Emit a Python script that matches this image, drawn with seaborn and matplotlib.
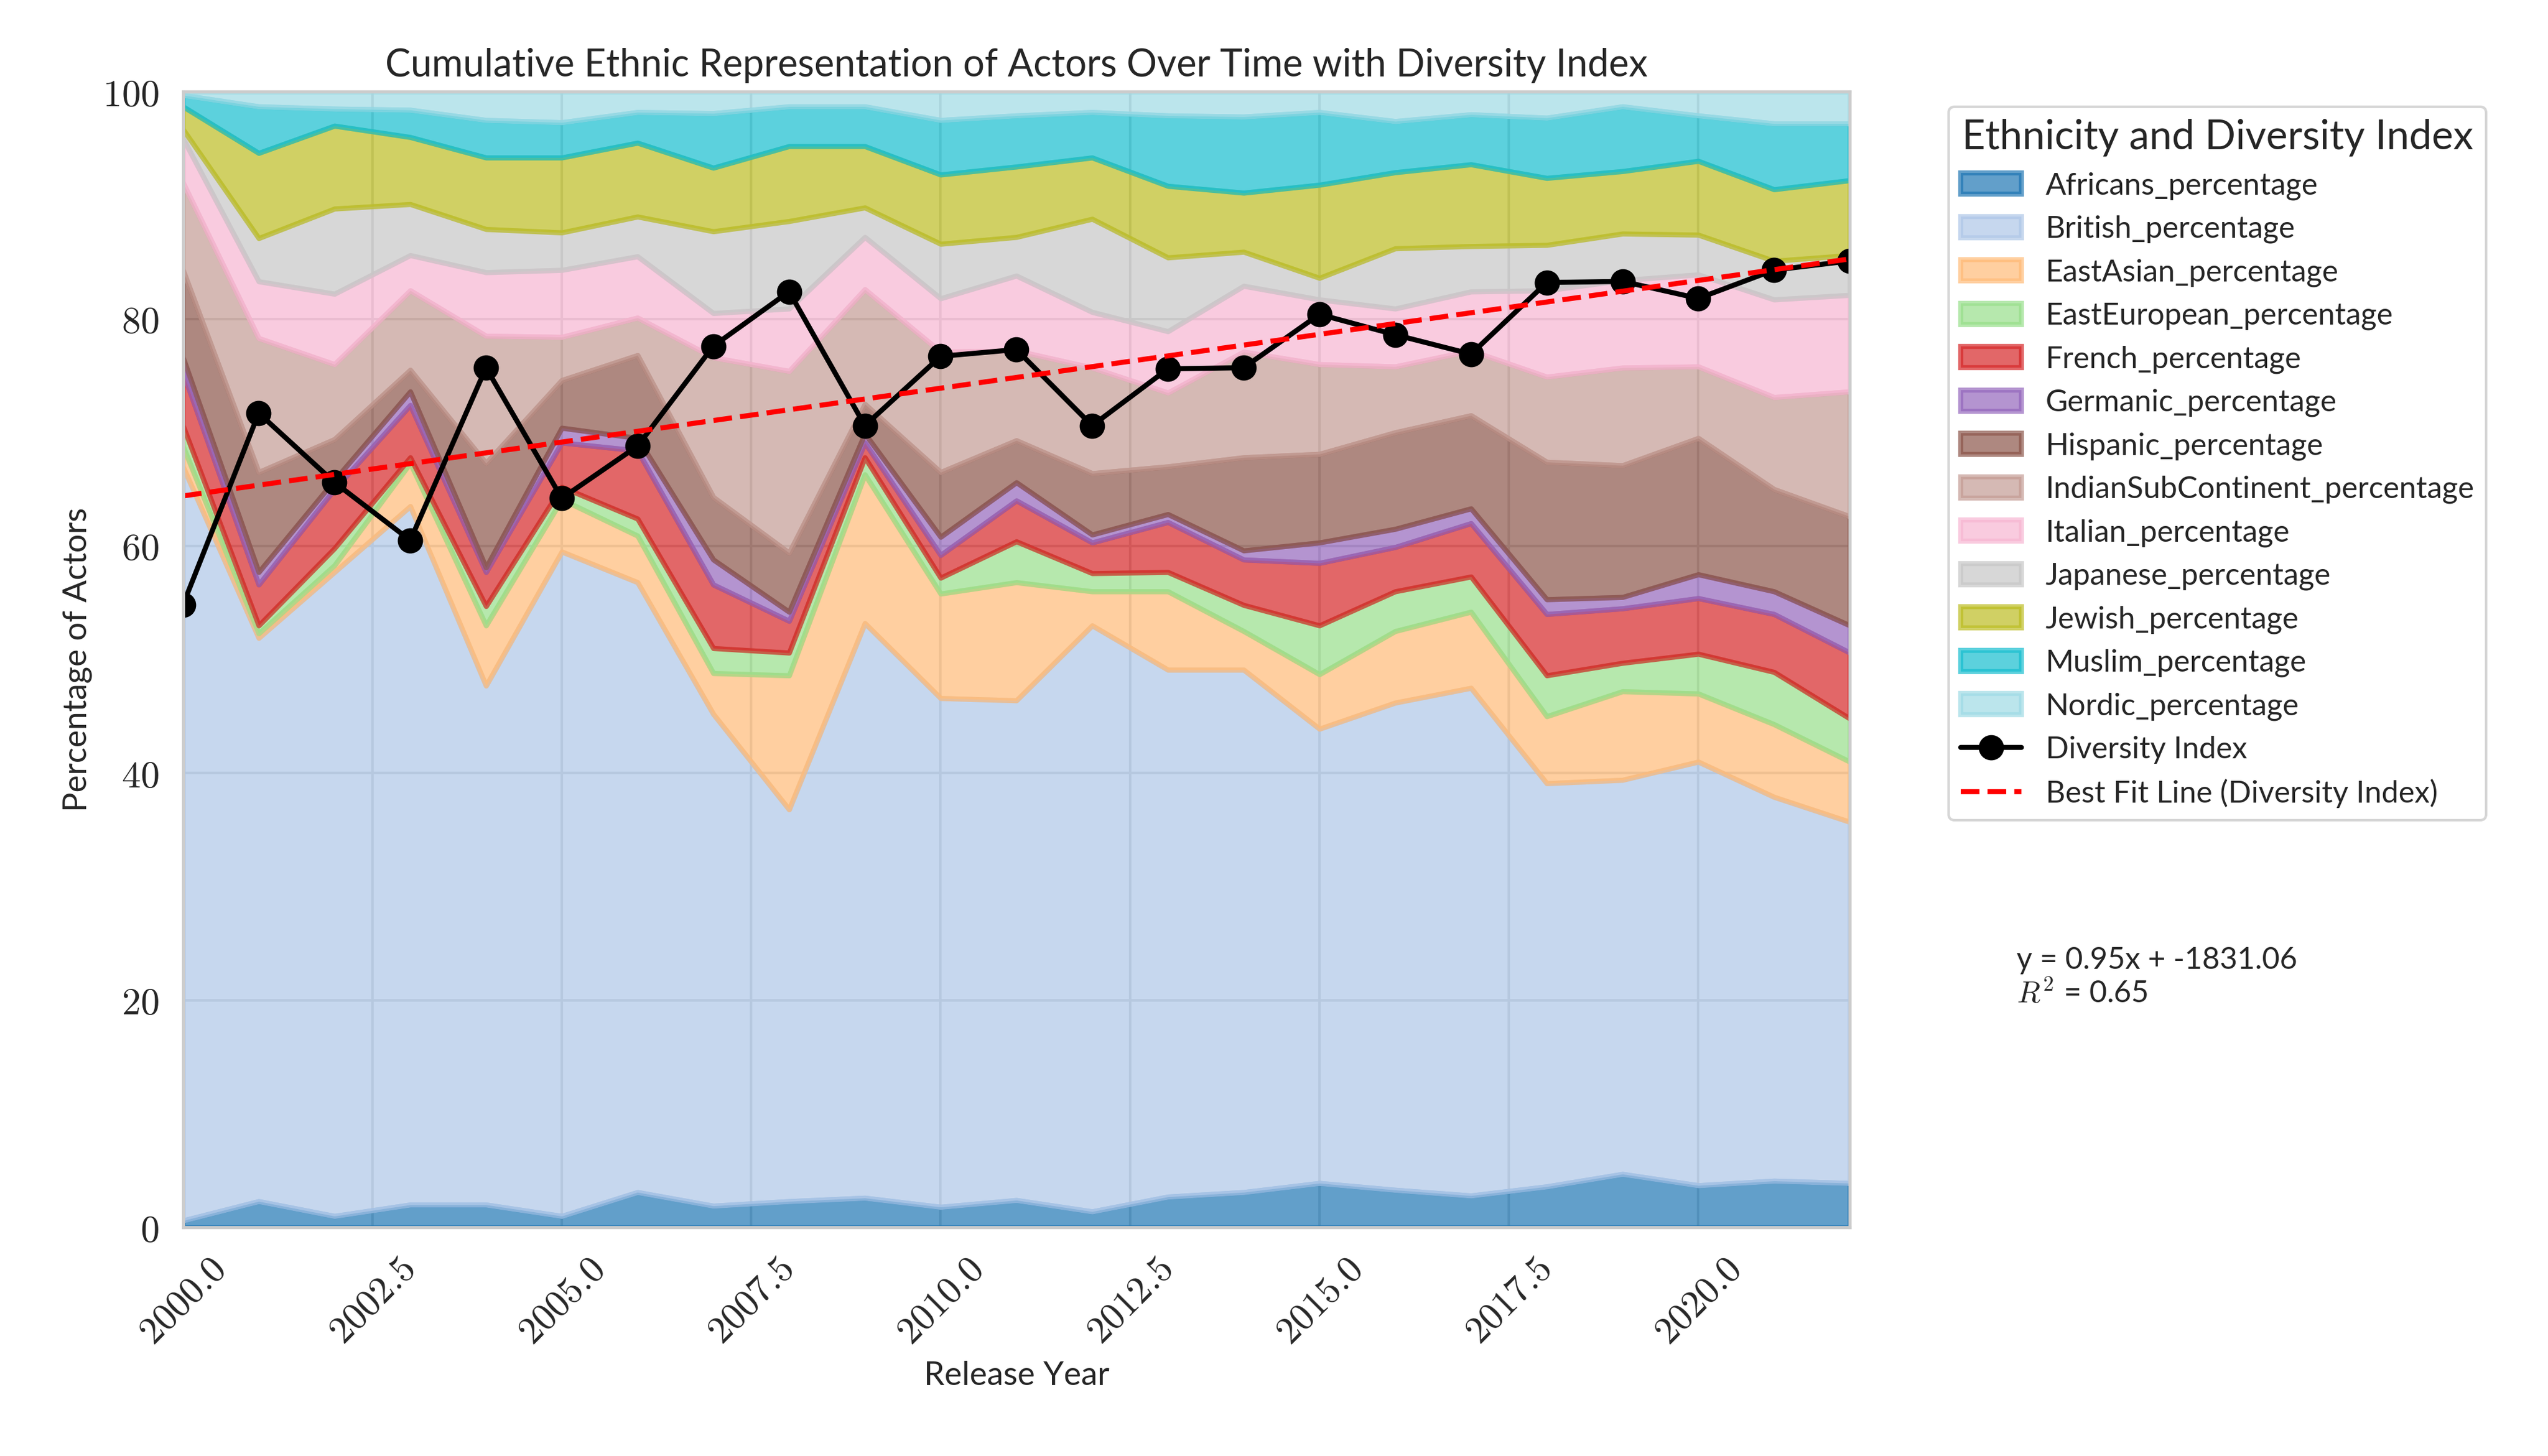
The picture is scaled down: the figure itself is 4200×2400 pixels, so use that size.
import numpy as np
import matplotlib
matplotlib.use('Agg')
import matplotlib.pyplot as plt
from matplotlib.ticker import FuncFormatter
import seaborn as sns

# Data (percent of actors per year)
years = list(range(2000, 2023))

africans = [0.6, 2.3, 1.0, 2.0, 2.0, 1.0, 3.1, 1.9, 2.3, 2.6, 1.8, 2.4, 1.4, 2.7, 3.1, 3.9, 3.3, 2.8, 3.6, 4.7, 3.7, 4.1, 3.9]
british = [66.4, 49.6, 56.7, 61.5, 45.7, 58.5, 53.7, 43.3, 34.5, 50.6, 44.8, 44.0, 51.6, 46.4, 46.0, 40.0, 42.9, 44.7, 35.5, 34.7, 37.3, 33.8, 31.8]
east_asian = [1.8, 0.4, 0.6, 3.8, 5.3, 4.6, 4.1, 3.6, 11.8, 13.1, 9.2, 10.4, 3.0, 6.9, 3.4, 4.8, 6.3, 6.7, 5.9, 7.8, 6.0, 6.4, 5.3]
east_european = [1.8, 0.7, 1.5, 0.5, 1.7, 1.1, 1.5, 2.2, 2.0, 1.5, 1.4, 3.6, 1.6, 1.7, 2.3, 4.3, 3.5, 3.1, 3.6, 2.5, 3.5, 4.6, 3.8]
french = [4.7, 3.6, 5.2, 4.6, 3.0, 3.9, 6.0, 5.6, 2.8, 1.3, 2.0, 3.6, 2.7, 4.4, 4.0, 5.5, 3.9, 4.7, 5.4, 4.8, 4.9, 5.1, 5.8]
germanic = [1.3, 1.1, 0.8, 1.2, 0.4, 1.3, 1.1, 2.2, 0.8, 0.8, 1.6, 1.6, 0.7, 0.7, 0.8, 1.8, 1.6, 1.3, 1.3, 1.0, 2.1, 2.0, 2.4]
hispanic = [7.7, 8.8, 3.6, 1.9, 9.2, 4.2, 7.3, 5.5, 5.2, 2.6, 5.7, 3.7, 5.4, 4.2, 8.2, 7.8, 8.5, 8.2, 12.1, 11.6, 12.0, 9.0, 9.6]
indian_sub = [7.7, 11.8, 6.6, 7.0, 11.2, 3.8, 3.3, 12.3, 16.0, 10.1, 10.6, 7.9, 9.3, 6.5, 9.3, 7.9, 5.8, 5.7, 7.5, 8.6, 6.3, 8.1, 11.0]
italian = [3.9, 5.0, 6.2, 3.1, 5.6, 5.9, 5.4, 3.9, 5.5, 4.6, 4.7, 6.6, 4.9, 5.4, 5.8, 5.7, 5.1, 5.2, 7.6, 7.7, 8.1, 8.6, 8.5]
japanese = [0.8, 3.8, 7.5, 4.5, 3.8, 3.3, 3.5, 7.2, 7.7, 2.6, 4.8, 3.4, 8.2, 6.5, 3.0, 1.9, 5.3, 4.0, 4.0, 4.1, 3.5, 3.4, 3.5]
jewish = [2.0, 7.5, 7.3, 5.9, 6.3, 6.6, 6.5, 5.6, 6.6, 5.4, 6.1, 6.2, 5.4, 6.3, 5.2, 8.2, 6.7, 7.2, 5.9, 5.5, 6.5, 6.3, 6.6]
muslim = [1.0, 4.1, 1.5, 2.4, 3.3, 3.1, 2.7, 4.8, 3.5, 3.5, 4.8, 4.5, 4.0, 6.2, 6.7, 6.4, 4.5, 4.4, 5.3, 5.7, 4.0, 5.8, 5.0]
nordic = [0.3, 1.3, 1.5, 1.6, 2.5, 2.7, 1.8, 1.9, 1.3, 1.3, 2.5, 2.1, 1.8, 2.1, 2.2, 1.8, 2.6, 2.0, 2.3, 1.3, 2.1, 2.8, 2.8]

diversity_index = [54.8, 71.7, 65.6, 60.5, 75.7, 64.2, 68.8, 77.6, 82.4, 70.6, 76.7, 77.3, 70.6,
                   75.6, 75.7, 80.4, 78.6, 76.9, 83.2, 83.3, 81.8, 84.3, 85.1]

labels = ['Africans_percentage', 'British_percentage', 'EastAsian_percentage',
          'EastEuropean_percentage', 'French_percentage', 'Germanic_percentage',
          'Hispanic_percentage', 'IndianSubContinent_percentage', 'Italian_percentage',
          'Japanese_percentage', 'Jewish_percentage', 'Muslim_percentage', 'Nordic_percentage']

fit_text = 'y = 0.95x + -1831.06\n$R^2$ = 0.65'

layers = [africans, british, east_asian, east_european, french, germanic, hispanic,
          indian_sub, italian, japanese, jewish, muslim, nordic]

# Style
sns.set_theme(style='whitegrid')
plt.rcParams['font.family'] = ['Lato', 'DejaVu Sans']
plt.rcParams['mathtext.fontset'] = 'cm'

colors = plt.cm.tab20(np.linspace(0, 1, len(layers)))

fig, ax = plt.subplots(figsize=(14, 8), dpi=300)
fig.subplots_adjust(left=0.0718, right=0.726, bottom=0.157, top=0.937)

polys = ax.stackplot(years, *layers, labels=labels, colors=colors, alpha=0.7, linewidth=2)
for poly, c in zip(polys, colors):
    poly.set_edgecolor(c)

# Diversity index and linear fit
ax.plot(years, diversity_index, color='black', marker='o', linewidth=2, markersize=9,
        label='Diversity Index')
fit = np.polyfit(years, diversity_index, 1)
ax.plot(years, np.polyval(fit, years), color='red', linestyle='--', linewidth=2,
        label='Best Fit Line (Diversity Index)')

ax.text(1.1, 0.193, fit_text, transform=ax.transAxes, fontsize=12, va='bottom')

ax.set_xlim(2000, 2022)
ax.set_ylim(0, 100)
ax.xaxis.set_major_formatter(FuncFormatter(lambda v, p: f'${v:.1f}$'))
ax.yaxis.set_major_formatter(FuncFormatter(lambda v, p: f'${v:.0f}$'))
ax.tick_params(axis='both', labelsize=15)
plt.setp(ax.get_xticklabels(), rotation=45)

ax.set_title('Cumulative Ethnic Representation of Actors Over Time with Diversity Index', fontsize=15)
ax.set_xlabel('Release Year', fontsize=13)
ax.set_ylabel('Percentage of Actors', fontsize=13)

ax.legend(title='Ethnicity and Diversity Index', bbox_to_anchor=(1.05, 1), loc='upper left',
          fontsize=12, title_fontsize=16)

fig.savefig('out.png', dpi=300)
